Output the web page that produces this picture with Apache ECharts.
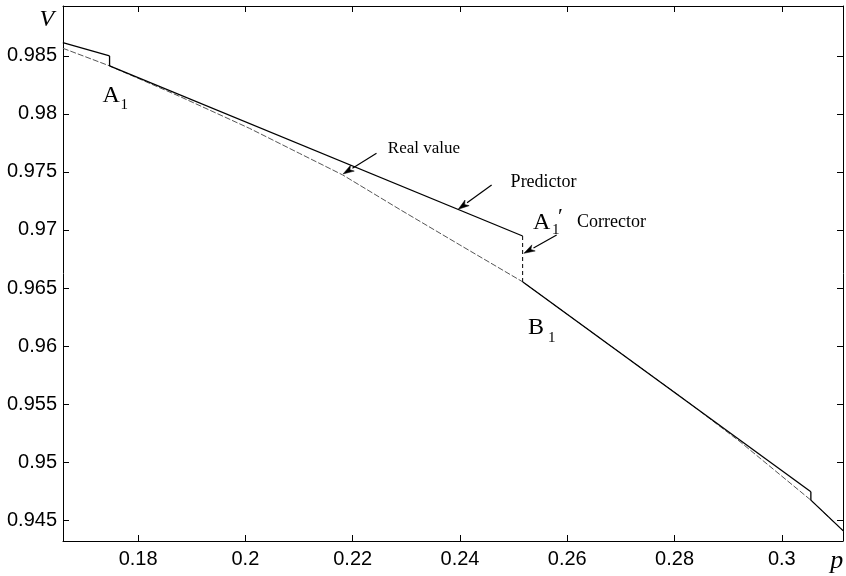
<!DOCTYPE html>
<html>
<head>
<meta charset="utf-8">
<script src="https://cdn.jsdelivr.net/npm/echarts@6/dist/echarts.min.js"></script>
<style>html,body{margin:0;padding:0;background:#fff}#c{width:846px;height:576px}</style>
</head>
<body>
<div id="c"></div>
<script>
// ---- data ----
const xTicks = [0.18, 0.2, 0.22, 0.24, 0.26, 0.28, 0.3];
const yTicks = [0.945, 0.95, 0.955, 0.96, 0.965, 0.97, 0.975, 0.98, 0.985];
const xRange = [0.166, 0.3114];
const yRange = [0.9432, 0.9893];

// real value curve
const realP = [0.16597, 0.17468, 0.18774, 0.20080, 0.21013, 0.21815, 0.22878, 0.23998, 0.25173, 0.26610, 0.28228, 0.29222, 0.30541, 0.31150];
const realV = [0.98566, 0.98414, 0.98151, 0.97875, 0.97659, 0.97474, 0.97177, 0.96871, 0.96552, 0.96068, 0.95525, 0.95175, 0.94672, 0.94405];

// predictor segments (tangent steps)
const pred1P = [0.16597, 0.17468];
const pred1V = [0.98615, 0.98500];
const pred2P = [0.17468, 0.25168];
const pred2V = [0.98414, 0.96948];
const pred3P = [0.25173, 0.30541];
const pred3V = [0.96552, 0.94744];
const pred4P = [0.30541, 0.31150];
const pred4V = [0.94672, 0.94405];

// corrector steps (vertical)
const corr1P = [0.17468, 0.17468];
const corr1V = [0.98500, 0.98414];
const corr2P = [0.25168, 0.25168];
const corr2V = [0.96948, 0.96552];
const corr3P = [0.30541, 0.30541];
const corr3V = [0.94744, 0.94672];

// annotation texts
const labelTexts = ['A', '1', 'Real value', 'Predictor', 'A', '1', '′', 'Corrector', 'B', '1', 'V', 'p'];
const labelP = [0.17338, 0.17674, 0.22655, 0.24944, 0.25360, 0.25714, 0.25826, 0.26181, 0.25267, 0.25640, 0.16162, 0.30902];
const labelV = [0.98155, 0.98078, 0.97698, 0.97414, 0.97065, 0.97000, 0.97112, 0.97069, 0.96155, 0.96069, 0.98810, 0.94146];
const labelSize = [24, 15, 17, 18, 24, 15, 22, 18, 24, 15, 24, 26];
const labelItalic = [0, 0, 0, 0, 0, 0, 0, 0, 0, 0, 1, 1];

// arrows: from -> to (data coords)
const arrowFromP = [0.22444, 0.24590, 0.25802];
const arrowFromV = [0.97661, 0.97388, 0.96957];
const arrowToP = [0.21821, 0.23967, 0.25192];
const arrowToV = [0.97483, 0.97178, 0.96799];

const zip = (a, b) => a.map((v, i) => [v, b[i]]);

const chart = echarts.init(document.getElementById('c'), null, {renderer: 'canvas'});

const axisFont = {fontFamily: '"Liberation Sans", Arial, sans-serif', fontSize: 20, color: '#000'};
const lineStyleAxis = {color: '#000', width: 1};

function solid(p, v) {
  return {type: 'line', data: zip(p, v), showSymbol: false, symbol: 'none', silent: true,
    lineStyle: {color: '#000', width: 1.3, type: 'solid'}, z: 3, animation: false};
}
function dashed(p, v, col, w) {
  return {type: 'line', data: zip(p, v), showSymbol: false, symbol: 'none', silent: true,
    lineStyle: {color: col || '#000', width: w || 1.2, type: [4, 3]}, z: 3, animation: false};
}

const option = {
  animation: false,
  grid: {left: 63, right: 3, top: 6, bottom: 35, containLabel: false},
  xAxis: [
    {type: 'value', min: xRange[0], max: xRange[1], position: 'bottom',
      axisLine: {show: true, lineStyle: lineStyleAxis, onZero: false},
      axisTick: {show: true, inside: true, length: 6, lineStyle: lineStyleAxis, customValues: xTicks},
      axisLabel: {show: true, margin: 8, customValues: xTicks, ...axisFont},
      splitLine: {show: false}},
    {type: 'value', min: xRange[0], max: xRange[1], position: 'top',
      axisLine: {show: true, lineStyle: lineStyleAxis, onZero: false},
      axisTick: {show: true, inside: true, length: 6, lineStyle: lineStyleAxis, customValues: xTicks},
      axisLabel: {show: false, customValues: xTicks},
      splitLine: {show: false}}
  ],
  yAxis: [
    {type: 'value', min: yRange[0], max: yRange[1], position: 'left',
      axisLine: {show: true, lineStyle: lineStyleAxis, onZero: false},
      axisTick: {show: true, inside: true, length: 6, lineStyle: lineStyleAxis, customValues: yTicks},
      axisLabel: {show: true, margin: 6, customValues: yTicks, ...axisFont},
      splitLine: {show: false}},
    {type: 'value', min: yRange[0], max: yRange[1], position: 'right',
      axisLine: {show: true, lineStyle: lineStyleAxis, onZero: false},
      axisTick: {show: true, inside: true, length: 6, lineStyle: lineStyleAxis, customValues: yTicks},
      axisLabel: {show: false, customValues: yTicks},
      splitLine: {show: false}}
  ],
  series: [
    Object.assign(dashed(realP, realV, '#555', 1), {smooth: false, lineStyle: {color: '#555', width: 1, type: [6, 2]}, z: 2}),
    solid(pred1P, pred1V),
    solid(pred2P, pred2V),
    solid(pred3P, pred3V),
    solid(pred4P, pred4V),
    solid(corr1P, corr1V),
    dashed(corr2P, corr2V, '#000', 1),
    solid(corr3P, corr3V)
  ]
};
chart.setOption(option);

function px(p, v) { return chart.convertToPixel({xAxisIndex: 0, yAxisIndex: 0}, [p, v]); }

const graphics = [];
labelTexts.forEach((t, i) => {
  const pt = px(labelP[i], labelV[i]);
  const fam = '"Liberation Serif", "Times New Roman", serif';
  graphics.push({
    type: 'text', silent: true, z: 10,
    style: {
      text: t, x: pt[0], y: pt[1],
      font: (labelItalic[i] ? 'italic ' : '') + labelSize[i] + 'px ' + fam,
      fill: '#000', textAlign: 'left', textVerticalAlign: 'middle', align: 'left', verticalAlign: 'middle'
    }
  });
});
arrowFromP.forEach((_, i) => {
  const a = px(arrowFromP[i], arrowFromV[i]);
  const b = px(arrowToP[i], arrowToV[i]);
  const dx = b[0] - a[0], dy = b[1] - a[1];
  const L = Math.sqrt(dx * dx + dy * dy);
  const ux = dx / L, uy = dy / L;
  const hl = 11, hw = 3.5;
  const base = [b[0] - ux * hl, b[1] - uy * hl];
  graphics.push({type: 'line', silent: true, z: 10,
    shape: {x1: a[0], y1: a[1], x2: base[0], y2: base[1]},
    style: {stroke: '#000', lineWidth: 1.2}});
  graphics.push({type: 'polygon', silent: true, z: 10,
    shape: {points: [[b[0], b[1]], [base[0] - uy * hw, base[1] + ux * hw], [base[0] + ux * 3, base[1] + uy * 3], [base[0] + uy * hw, base[1] - ux * hw]]},
    style: {fill: '#000', stroke: '#000', lineWidth: 0.5}});
});
chart.setOption({graphic: graphics});
</script>
</body>
</html>
